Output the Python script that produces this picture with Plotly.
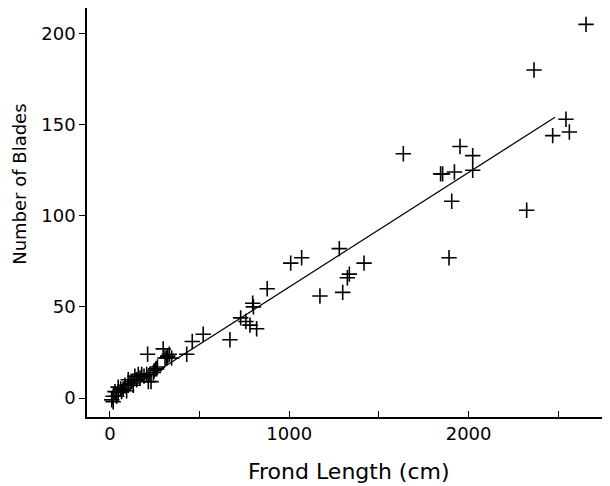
import plotly.graph_objects as go

# Frond length (cm) and number of blades
frond_length = [
    2655, 2365, 2543, 2562, 2469,
    1636, 1952, 2023, 1844, 1855, 1921, 2023, 1906, 2324, 1891,
    1279, 1417, 1335, 1324, 1298, 1171, 1069, 1008, 877, 796, 800,
    729, 758, 781, 818, 669,
    520, 459, 428, 210, 297, 307, 322, 344,
    260, 242, 223, 229, 205, 177, 158, 149, 121, 130, 102, 93, 74,
    46, 46, 28, 18, 10, 18, 37, 65, 102, 139, 247, 255, 265, 214,
    331, 316, 84, 60, 112, 168, 190,
]
blades = [
    205, 180, 153, 146, 144,
    134, 138, 133, 123, 123, 124, 125, 108, 103, 77,
    82, 74, 68, 66, 58, 56, 77, 74, 60, 52, 50,
    44, 42, 40, 38, 32,
    35, 31, 24, 24, 27, 22, 23, 22,
    16, 14, 13, 9, 13, 13, 13, 10, 9, 7, 7, 4, 5,
    6, 3, 3.5, 1, -1, -2, 1, 3.5, 10, 12, 15, 16, 17, 9,
    24, 22, 7, 5, 8, 11, 12,
]

# Fitted regression line endpoints
fit_x = [10, 2482]
fit_intercept = -1.85
fit_slope = 0.0628
fit_y = [fit_intercept + fit_slope * v for v in fit_x]

x_ticks = [0, 500, 1000, 1500, 2000, 2500]
x_tick_labels = ["0", "", "1000", "", "2000", ""]
y_ticks = [0, 50, 100, 150, 200]

fig = go.Figure()
fig.add_trace(go.Scatter(
    x=frond_length, y=blades, mode="markers",
    marker=dict(symbol="cross-thin-open", size=11, color="black",
                line=dict(color="black", width=1.6)),
    showlegend=False,
))
fig.add_trace(go.Scatter(
    x=fit_x, y=fit_y, mode="lines",
    line=dict(color="black", width=1.2), showlegend=False,
))

font = dict(family="DejaVu Sans", size=18, color="black")
fig.update_layout(
    width=620, height=486,
    margin=dict(l=79, r=0, t=0, b=77),
    plot_bgcolor="white", paper_bgcolor="white",
    font=font,
    xaxis=dict(range=[-128, 2889], tickvals=x_ticks, ticktext=x_tick_labels,
               ticks="inside", ticklen=6, tickwidth=1.3, tickcolor="black",
               showline=True, linecolor="black", linewidth=1.5,
               showgrid=False, zeroline=False, tickfont=font),
    yaxis=dict(range=[-10.4, 214], tickvals=y_ticks,
               ticks="outside", ticklen=6, tickwidth=1.3, tickcolor="black",
               showline=True, linecolor="black", linewidth=1.5,
               showgrid=False, zeroline=False, tickfont=font),
    annotations=[
        dict(text="Frond Length (cm)", xref="paper", yref="paper",
             x=0.484, y=-0.134, xanchor="center", yanchor="middle",
             showarrow=False, font=dict(family="DejaVu Sans", size=22, color="black")),
        dict(text="Number of Blades", xref="paper", yref="paper",
             x=-0.124, y=0.57, xanchor="center", yanchor="middle",
             textangle=-90, showarrow=False,
             font=dict(family="DejaVu Sans", size=18, color="black")),
    ],
)

fig.write_html("out.html")
